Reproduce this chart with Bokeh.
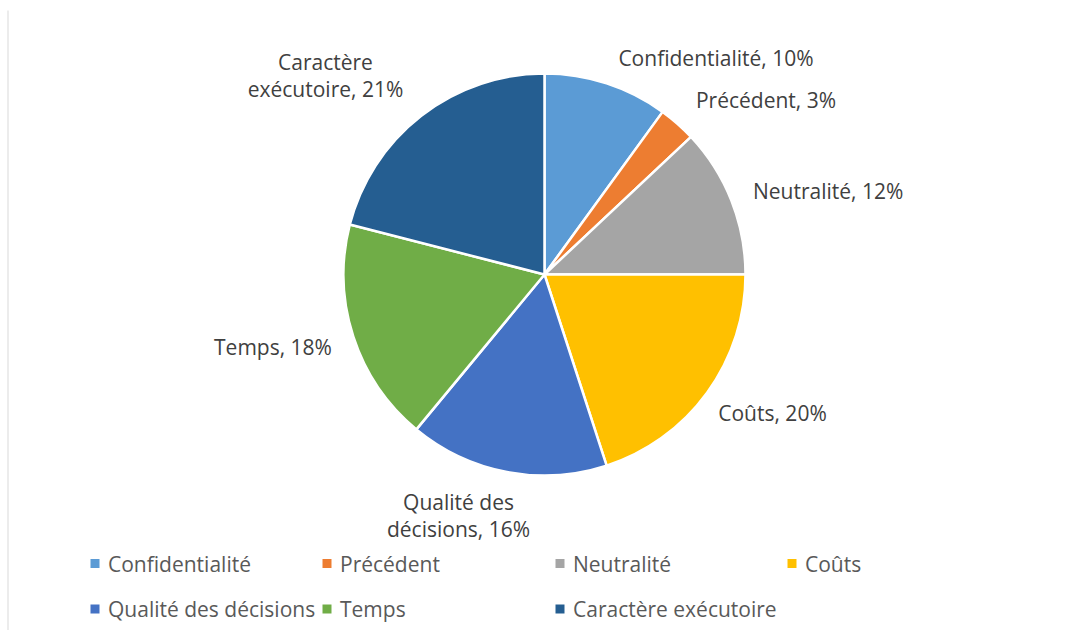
import numpy as np
from bokeh.plotting import figure
from bokeh.models import Range1d, ColumnDataSource
from bokeh.core.properties import value
from bokeh.embed import file_html
from bokeh.resources import INLINE

# ---------------- data ----------------
categories = ["Confidentialité", "Précédent", "Neutralité", "Coûts",
              "Qualité des décisions", "Temps", "Caractère exécutoire"]
shares = [10, 3, 12, 20, 16, 18, 21]
colors = ["#5B9BD5", "#ED7D31", "#A5A5A5", "#FFC000",
          "#4472C4", "#70AD47", "#255E91"]

# ---------------- layout (screen px) ----------------
W, H = 1065, 630
OFF = 0
CX, CY, R = 544, 274, 201
label_xy = [(715.5, 57), (765.5, 99), (827.7, 190.7), (772, 412.5),
            (458, 515), (272.5, 346.7), (325, 75)]
label_wrap = [False, False, False, False, True, False, True]
legend_cols = [94.5, 326.5, 559.5, 791.5]
legend_rows = [563, 608.5]
FONT = "Open Sans"


def Y(sy):
    return -sy


p = figure(width=W, height=H,
           x_range=Range1d(OFF, OFF + W), y_range=Range1d(-(OFF + H), -OFF),
           output_backend="svg", toolbar_location=None,
           x_axis_location=None, y_axis_location=None, min_border=0)
p.grid.visible = False
p.outline_line_color = None
p.background_fill_color = "white"
p.border_fill_color = "white"

# left chart-area border
p.segment(x0=[7.5], y0=[Y(10)], x1=[7.5], y1=[Y(OFF + H)],
          line_color="#D9D9D9", line_width=1)

# wedges, clockwise from 12 o'clock
total = float(sum(shares))
cum = np.cumsum([0] + shares) / total
start = [np.pi / 2 - cum[i + 1] * 2 * np.pi for i in range(len(shares))]
end = [np.pi / 2 - cum[i] * 2 * np.pi for i in range(len(shares))]
src = ColumnDataSource(dict(start=start, end=end, color=colors))
p.wedge(x=CX, y=Y(CY), radius=R, start_angle="start", end_angle="end",
        fill_color="color", line_color="white", line_width=2.5, source=src)

# data labels
texts = []
for c, s, w in zip(categories, shares, label_wrap):
    name = c
    if w:
        a, b = c.rsplit(" ", 1)
        name = a + "\n" + b
    texts.append(f"{name}, {s}%")
lsrc = ColumnDataSource(dict(x=[xy[0] for xy in label_xy],
                             y=[Y(xy[1]) for xy in label_xy], text=texts))
p.text(x="x", y="y", text="text", source=lsrc,
       text_font=value(FONT), text_font_size="21px", text_color="#404040",
       text_align="center", text_baseline="middle", text_line_height=0.98)

# legend
lx, ly, lt, lc = [], [], [], []
for i, (c, col) in enumerate(zip(categories, colors)):
    r, k = divmod(i, 4)
    lx.append(legend_cols[k])
    ly.append(Y(legend_rows[r]))
    lt.append(c)
    lc.append(col)
p.rect(x=lx, y=ly, width=9, height=9, fill_color=lc, line_color=None)
p.text(x=[x + 13 for x in lx], y=ly, text=lt,
       text_font=value(FONT), text_font_size="21px", text_color="#595959",
       text_align="left", text_baseline="middle")

open("out.html", "w").write(file_html(p, INLINE))
